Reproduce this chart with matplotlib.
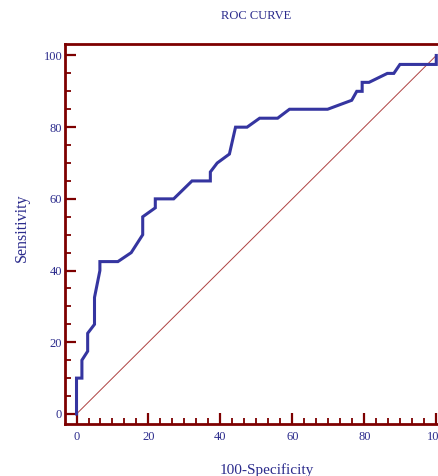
import matplotlib
matplotlib.use('Agg')
import matplotlib.pyplot as plt
from matplotlib.ticker import MultipleLocator

# ROC curve points (100-Specificity, Sensitivity)
fpr = [0, 0, 1.5, 1.5, 3.1, 3.1, 5, 5, 6.5, 6.5, 11.5, 15.2, 18.4, 18.4,
       21.9, 21.9, 27, 32.1, 37.2, 37.2, 39.1, 42.5, 44.2, 47.4, 50.9, 55.9,
       59.2, 69.8, 76.5, 77.9, 79.4, 79.4, 81.3, 86.4, 88.2, 89.9, 100, 100]
tpr = [0, 10, 10, 15, 17.5, 22.5, 25, 32.5, 40, 42.5, 42.5, 45, 50, 55,
       57.5, 60, 60, 65, 65, 67.5, 70, 72.5, 80, 80, 82.5, 82.5,
       85, 85, 87.5, 90, 90, 92.5, 92.5, 95, 95, 97.5, 97.5, 100]
ref_line = [0, 100]
major_ticks = [0, 20, 40, 60, 80, 100]

AXIS_RED = '#7d0000'
LABEL_BLUE = '#2b2b8c'
CURVE_BLUE = '#3535a0'

plt.rcParams['font.family'] = ['Liberation Serif', 'DejaVu Serif']

fig = plt.figure(figsize=(4.39, 4.76), dpi=100)
ax = fig.add_axes([65 / 439, 52 / 476, 1 - 65 / 439 + 0.02, 380 / 476])

# diagonal reference line
ax.plot(ref_line, ref_line, color='#a02020', linewidth=0.7, alpha=0.85)
# roc curve
ax.plot(fpr, tpr, color=CURVE_BLUE, linewidth=2.2, solid_joinstyle='miter')

ax.set_xlim(-3.2, 103.2)
ax.set_ylim(-2.8, 103.2)

ax.set_xticks(major_ticks)
ax.set_yticks(major_ticks)
ax.xaxis.set_minor_locator(MultipleLocator(10 / 3))
ax.yaxis.set_minor_locator(MultipleLocator(5))

for side in ['left', 'top', 'bottom']:
    ax.spines[side].set_color(AXIS_RED)
    ax.spines[side].set_linewidth(2.0)
ax.spines['right'].set_visible(False)

ax.tick_params(which='major', direction='in', length=8, width=1.6, color=AXIS_RED,
               labelcolor=LABEL_BLUE, labelsize=9, pad=4)
ax.tick_params(which='minor', direction='in', length=4.3, width=1.3, color=AXIS_RED)
ax.tick_params(axis='y', which='both', left=True, right=False)
ax.tick_params(axis='x', which='both', bottom=True, top=False)
ax.tick_params(axis='y', pad=2)
ax.tick_params(axis='x', pad=5)

fig.text(256 / 439, 1 - 16 / 476, 'ROC CURVE', ha='center', va='center',
         color=LABEL_BLUE, fontsize=9)
fig.text(22 / 439, 1 - 228 / 476, 'Sensitivity', ha='center', va='center',
         rotation=90, color=LABEL_BLUE, fontsize=11.5)
fig.text(267 / 439, 1 - 470 / 476, '100-Specificity', ha='center', va='center',
         color=LABEL_BLUE, fontsize=11)

fig.savefig('out.png', dpi=100)
